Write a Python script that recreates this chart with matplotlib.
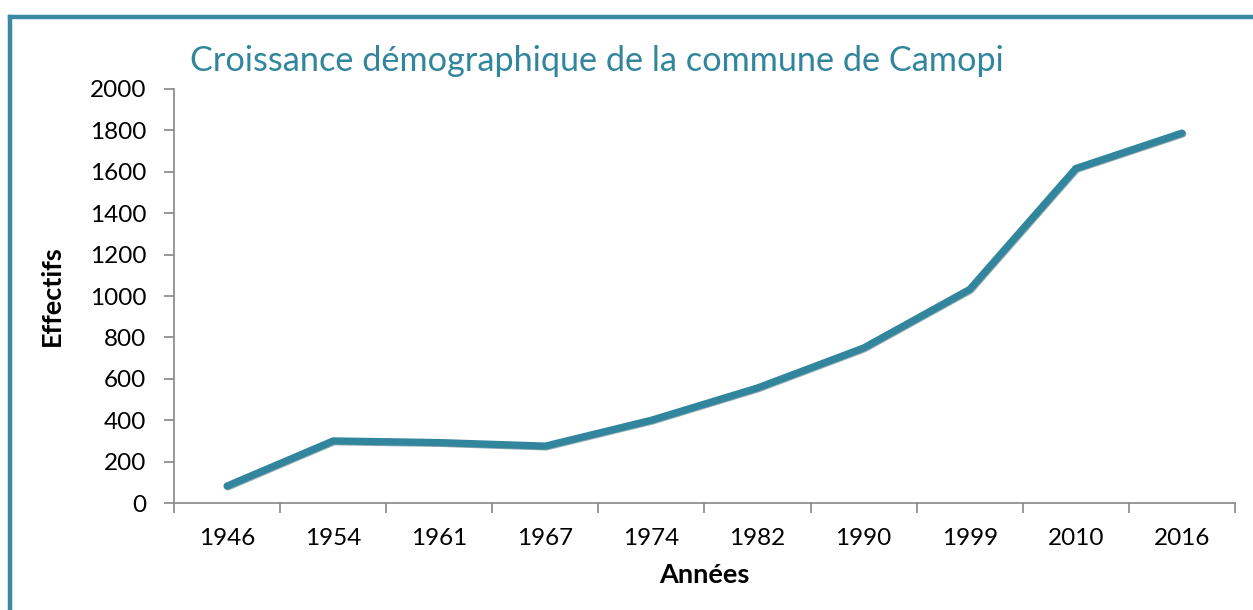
import matplotlib.pyplot as plt
import matplotlib.patheffects as pe
from matplotlib.lines import Line2D
import numpy as np

# -------------------------- Data --------------------------

annees = ["1946", "1954", "1961", "1967", "1974", "1982", "1990", "1999", "2010", "2016"]
effectifs = [82, 300, 292, 275, 400, 556, 749, 1032, 1616, 1787]

TEAL = "#31859C"
FRAME = "#3A88A1"
GREY = "#868686"

plt.rcParams["font.family"] = ["Lato", "DejaVu Sans"]

# -------------------------- Figure --------------------------

fig = plt.figure(figsize=(12.53, 6.10), dpi=100)
ax = fig.add_axes([0.1389, 0.1754, 0.8467, 0.6787])

x = np.arange(len(annees))
ax.plot(x, effectifs, color=TEAL, lw=5.2, solid_capstyle="round", solid_joinstyle="round",
        path_effects=[pe.SimpleLineShadow(offset=(0.6, -0.6), shadow_color="#1f5565", alpha=0.5),
                      pe.Normal()])

ax.set_xlim(-0.5, len(annees) - 0.5)
ax.set_ylim(0, 2000)
ax.set_yticks(np.arange(0, 2001, 200))

# tick marks between categories, labels centred on categories
ax.set_xticks(np.arange(-0.5, len(annees), 1.0))
ax.set_xticklabels([])
ax.set_xticks(x, minor=True)
ax.set_xticklabels(annees, minor=True)
ax.tick_params(axis="x", which="major", length=7, width=1.2, color=GREY, direction="out")
ax.tick_params(axis="x", which="minor", length=0, pad=18, labelsize=17.5)
ax.tick_params(axis="y", length=7, width=1.2, color=GREY, direction="out", pad=13, labelsize=17.5)

for s in ["top", "right"]:
    ax.spines[s].set_visible(False)
for s in ["left", "bottom"]:
    ax.spines[s].set_color(GREY)
    ax.spines[s].set_linewidth(1.2)

ax.set_ylabel("Effectifs", fontsize=19.5, fontweight="bold", labelpad=19)
ax.set_xlabel("Années", fontsize=19.5, fontweight="bold", labelpad=10)

fig.text(0.4765, 0.9, "Croissance démographique de la commune de Camopi",
         color=TEAL, fontsize=24.7, ha="center", va="center")

# frame around the chart (top and left edges visible)
fig.add_artist(Line2D([0.0082, 1.0], [0.9725, 0.9725], transform=fig.transFigure, color=FRAME, lw=3.2))
fig.add_artist(Line2D([0.0082, 0.0082], [0.0, 0.9725], transform=fig.transFigure, color=FRAME, lw=3.2))

fig.savefig("out.png", dpi=100)
